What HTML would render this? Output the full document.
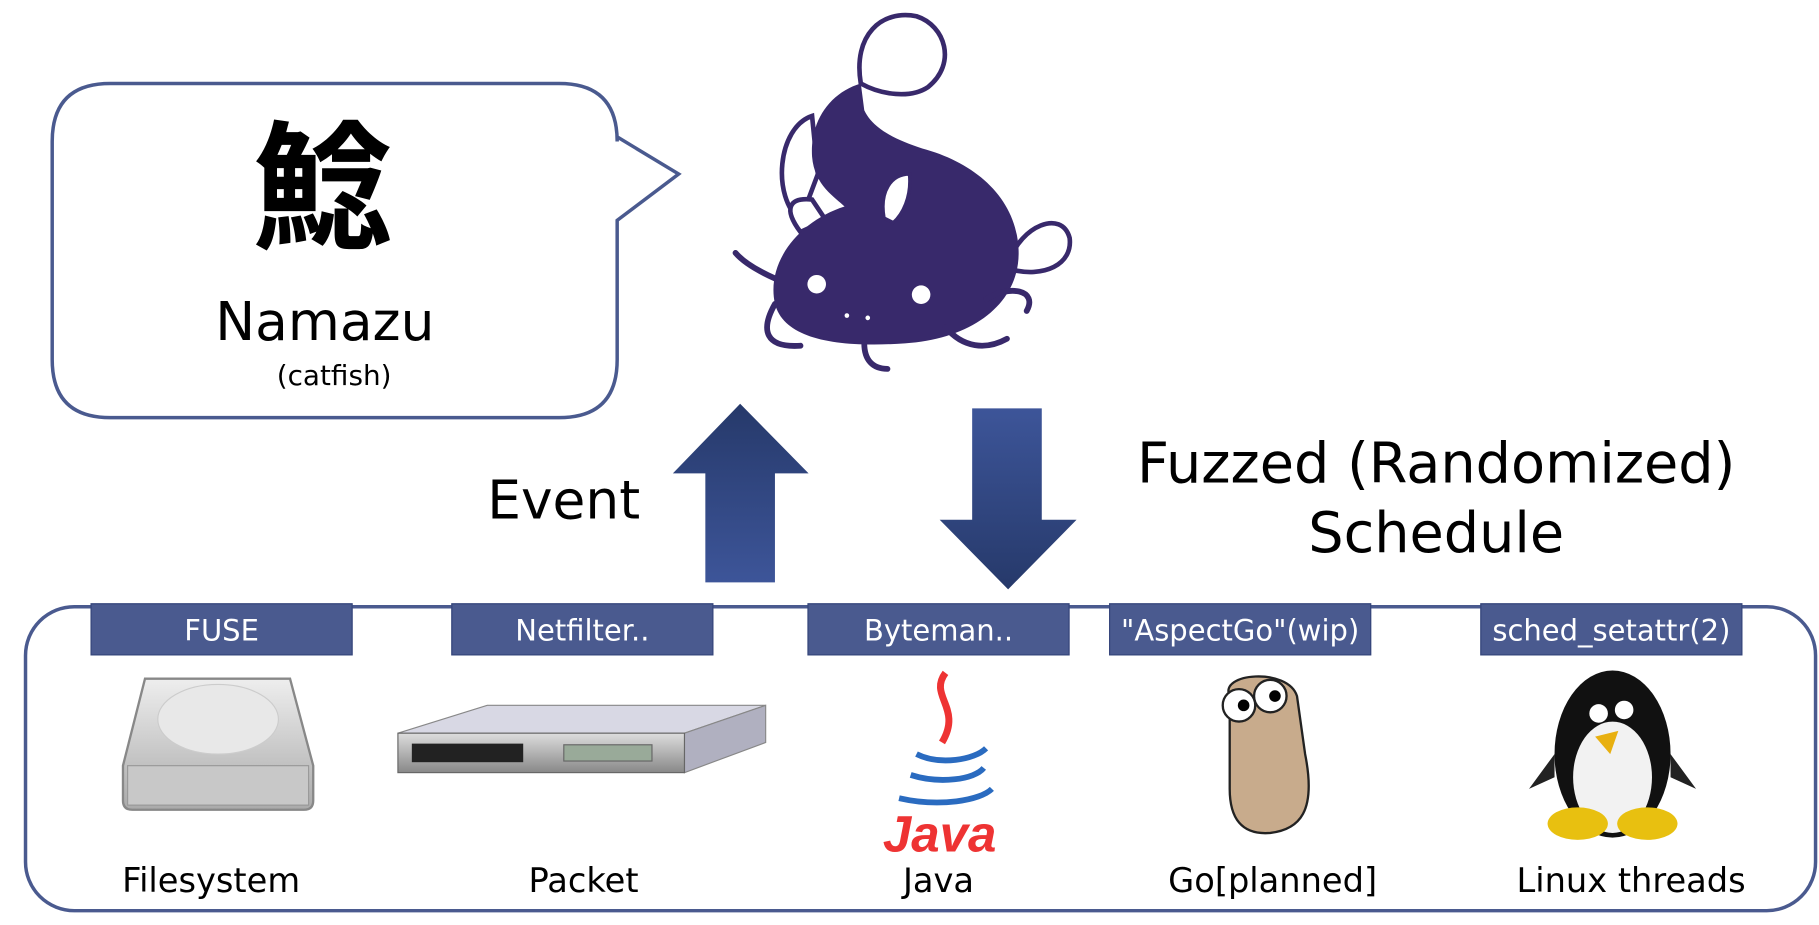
<!DOCTYPE html>
<html><head><meta charset="utf-8"><style>
html,body{margin:0;padding:0;background:#fff;width:1819px;height:924px;overflow:hidden}
#w{position:absolute;left:0;top:0;width:1568px;height:797px;transform:scale(1.1601);transform-origin:0 0;font-family:"DejaVu Sans","Liberation Sans","Noto Sans CJK JP",sans-serif}
.t{position:absolute;white-space:nowrap;color:#000}
.lab{position:absolute;top:520px;height:45px;width:226px;background:#4a5a8f;border:1px solid #35457a;color:#fff;font-size:25px;line-height:45px;text-align:center;box-sizing:border-box}
.bl{position:absolute;top:742px;font-size:29px;transform:translateX(-50%);white-space:nowrap}
</style></head><body><div id="w">
<svg width="1568" height="797" style="position:absolute;left:0;top:0">
<defs>
<linearGradient id="ga" x1="0" y1="0" x2="0" y2="1"><stop offset="0" stop-color="#26396a"/><stop offset="1" stop-color="#3d5599"/></linearGradient>
<linearGradient id="gb" x1="0" y1="0" x2="0" y2="1"><stop offset="0" stop-color="#3d5599"/><stop offset="1" stop-color="#26396a"/></linearGradient>
<linearGradient id="gd" x1="0" y1="0" x2="0" y2="1"><stop offset="0" stop-color="#eee"/><stop offset="1" stop-color="#aaa"/></linearGradient>
<linearGradient id="gs" x1="0" y1="0" x2="0" y2="1"><stop offset="0" stop-color="#ddd"/><stop offset="1" stop-color="#888"/></linearGradient>
</defs>
<path d="M95,72 H482 Q532,72 532,122 V118 L585,150 L532,190 V310 Q532,360 482,360 H95 Q45,360 45,310 V122 Q45,72 95,72 Z" fill="#fff" stroke="#4a5a8f" stroke-width="3"/>
<rect x="22" y="523" width="1543" height="262" rx="42" fill="#fff" stroke="#4a5a8f" stroke-width="3"/>
<path d="M638,348 L697,408 H668 V502 H608 V408 H580 Z" fill="url(#ga)"/>
<path d="M838,352 H898 V448 H928 L869,508 L810,448 H838 Z" fill="url(#gb)"/>
<!-- catfish -->
<g stroke="#38296b" stroke-width="4" fill="#fff">
<path d="M742,72 C735,30 760,8 790,14 C815,22 825,55 800,75 C785,85 760,82 742,72 Z"/>
<path d="M700,100 C670,110 665,170 690,190 L705,150 Z"/>
<path d="M690,200 C675,180 680,170 700,172 L712,190 Z"/>
<path d="M870,225 C880,195 915,180 922,205 C925,228 900,240 870,232 Z"/>
</g>
<path d="M742,72 C715,80 698,105 700,135 C702,160 720,170 728,178 C690,190 660,225 668,262 C676,292 720,300 780,296 C840,292 880,260 878,215 C876,170 840,140 795,128 C770,120 752,110 745,95 Z" fill="#38296b"/>
<path d="M762,188 C758,165 768,150 784,150 C786,170 778,185 770,192 Z" fill="#fff" stroke="#38296b" stroke-width="3"/>
<g fill="none" stroke="#38296b" stroke-width="5" stroke-linecap="round">
<path d="M668,240 C650,232 640,225 634,218"/>
<path d="M668,262 C655,285 660,300 690,298"/>
<path d="M745,296 C745,310 752,318 765,318"/>
<path d="M850,258 C870,245 895,250 885,268"/>
<path d="M815,282 C830,300 850,302 868,292"/>
</g>
<circle cx="704" cy="245" r="8" fill="#fff"/><circle cx="794" cy="254" r="8" fill="#fff"/>
<circle cx="730" cy="272" r="2" fill="#fff"/><circle cx="748" cy="274" r="2" fill="#fff"/>
<!-- disk -->
<path d="M125,585 H250 L270,660 V690 Q270,698 262,698 H114 Q106,698 106,690 V660 Z" fill="url(#gd)" stroke="#888" stroke-width="2"/>
<rect x="110" y="660" width="156" height="34" fill="#c8c8c8" stroke="#999"/>
<ellipse cx="188" cy="620" rx="52" ry="30" fill="#e8e8e8" stroke="#ccc"/>
<!-- switch -->
<path d="M343,632 L420,608 H660 L590,632 Z" fill="#d8d8e4" stroke="#888"/>
<path d="M590,632 L660,608 V640 L590,666 Z" fill="#b0b0c0" stroke="#888"/>
<rect x="343" y="632" width="247" height="34" fill="url(#gs)" stroke="#666"/>
<rect x="355" y="641" width="96" height="16" fill="#222"/>
<rect x="486" y="642" width="76" height="14" fill="#9a9" stroke="#666"/>
<!-- java -->
<path d="M815,580 C800,600 830,610 812,640" fill="none" stroke="#e33" stroke-width="6"/>
<path d="M790,650 C810,660 840,655 850,645 M785,668 C810,676 840,672 848,662 M775,688 C810,696 845,690 855,680" fill="none" stroke="#2a6bc0" stroke-width="5"/>
<text x="810" y="734" font-family="Liberation Sans,sans-serif" font-size="44" font-weight="bold" fill="#e33" text-anchor="middle" font-style="italic">Java</text>
<!-- gopher -->
<path d="M1060,600 C1050,580 1110,575 1118,600 L1125,650 C1135,700 1120,715 1095,718 C1070,720 1060,705 1060,680 Z" fill="#c8ab8c" stroke="#222" stroke-width="2"/>
<circle cx="1068" cy="608" r="14" fill="#fff" stroke="#222" stroke-width="2"/><circle cx="1095" cy="600" r="14" fill="#fff" stroke="#222" stroke-width="2"/>
<circle cx="1072" cy="608" r="5"/><circle cx="1099" cy="600" r="5"/>
<!-- penguin -->
<ellipse cx="1390" cy="650" rx="50" ry="72" fill="#111"/>
<ellipse cx="1390" cy="670" rx="34" ry="48" fill="#f2f2f2"/>
<path d="M1340,650 L1318,680 L1340,670 Z M1440,650 L1462,680 L1440,670 Z" fill="#222"/>
<ellipse cx="1360" cy="710" rx="26" ry="14" fill="#e8c010"/><ellipse cx="1420" cy="710" rx="26" ry="14" fill="#e8c010"/>
<path d="M1375,635 L1395,630 L1388,650 Z" fill="#e8b010"/>
<circle cx="1378" cy="615" r="8" fill="#fff"/><circle cx="1400" cy="612" r="8" fill="#fff"/>
</svg>
<div class="t" style="left:218px;top:88px;font-size:120px;font-weight:bold;font-family:'Noto Sans CJK JP',sans-serif;line-height:130px">鯰</div>
<div class="t" style="left:280px;top:250px;font-size:46px;transform:translateX(-50%)">Namazu</div>
<div class="t" style="left:288px;top:310px;font-size:24px;transform:translateX(-50%)">(catfish)</div>
<div class="t" style="left:420px;top:404px;font-size:46px">Event</div>
<div class="t" style="left:1238px;top:372px;font-size:48px;transform:translateX(-50%)">Fuzzed (Randomized)</div>
<div class="t" style="left:1238px;top:432px;font-size:48px;transform:translateX(-50%)">Schedule</div>
<div class="lab" style="left:78px">FUSE</div>
<div class="lab" style="left:389px">Netfilter..</div>
<div class="lab" style="left:696px">Byteman..</div>
<div class="lab" style="left:956px">"AspectGo"(wip)</div>
<div class="lab" style="left:1276px">sched_setattr(2)</div>
<div class="bl" style="left:182px">Filesystem</div>
<div class="bl" style="left:503px">Packet</div>
<div class="bl" style="left:809px">Java</div>
<div class="bl" style="left:1097px">Go[planned]</div>
<div class="bl" style="left:1406px">Linux threads</div>
</div></body></html>
